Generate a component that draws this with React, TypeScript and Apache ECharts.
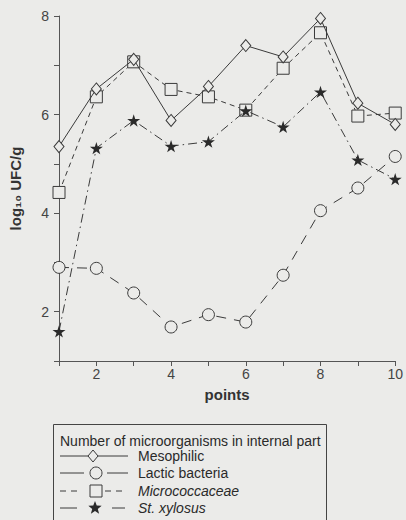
import React, { useEffect, useRef } from "react";
import * as echarts from "echarts";

const points = [1, 2, 3, 4, 5, 6, 7, 8, 9, 10];
const mesophilic = [5.35, 6.52, 7.12, 5.88, 6.57, 7.4, 7.17, 7.95, 6.23, 5.8];
const lactic = [2.9, 2.88, 2.38, 1.69, 1.94, 1.79, 2.74, 4.05, 4.51, 5.15];
const micrococcaceae = [4.42, 6.36, 7.07, 6.51, 6.36, 6.09, 6.94, 7.66, 5.97, 6.03];
const xylosus = [1.6, 5.32, 5.88, 5.36, 5.45, 6.08, 5.75, 6.46, 5.08, 4.69];
const yTickLabels = ["2", "4", "6", "8"];
const xTickLabels = ["2", "4", "6", "8", "10"];
const legendTitle = "Number of microorganisms in internal part";
const seriesNames = ["Mesophilic", "Lactic bacteria", "Micrococcaceae", "St. xylosus"];

const BG = "#ebebe9";
const INK = "#3a3a3a";
const FONT = "Liberation Sans, Arial, sans-serif";
const STAR = "path://M50,0 L61,35 L98,35 L68,57 L79,91 L50,70 L21,91 L32,57 L2,35 L39,35 Z";

function starPoints(cx: number, cy: number, r: number) {
  const pts: number[][] = [];
  for (let i = 0; i < 10; i++) {
    const rad = i % 2 === 0 ? r : r * 0.42;
    const a = -Math.PI / 2 + (i * Math.PI) / 5;
    pts.push([cx + rad * Math.cos(a), cy + rad * Math.sin(a)]);
  }
  return pts;
}

export default function App() {
  const ref = useRef<HTMLDivElement>(null);
  useEffect(() => {
    document.body.style.margin = "0";
    const chart = echarts.init(ref.current!, undefined, { renderer: "svg" });
    const pair = (arr: number[]) => points.map((p, i) => [p, arr[i]]);
    const rowY = [456, 473, 491, 508];
    const segments: number[][][] = [
      [[60, 128]],
      [[60, 84], [107, 128]],
      [[60, 66], [71, 77], [105, 111], [116, 122]],
      [[60, 77], [112, 125]],
    ];
    const markerX = [93, 96, 96, 95];
    const legendGraphics: any[] = [
      {
        type: "rect",
        shape: { x: 53.5, y: 424.5, width: 273, height: 110 },
        style: { fill: "none", stroke: "#444", lineWidth: 1 },
      },
      {
        type: "text",
        x: 60,
        y: 441,
        style: { text: legendTitle, font: `14px ${FONT}`, fill: "#2a2a2a", textVerticalAlign: "middle" },
      },
    ];
    seriesNames.forEach((name, i) => {
      const y = rowY[i];
      segments[i].forEach(([a, b]) =>
        legendGraphics.push({
          type: "line",
          shape: { x1: a, y1: y, x2: b, y2: y },
          style: { stroke: INK, lineWidth: 1 },
        })
      );
      const cx = markerX[i];
      let marker: any;
      if (i === 0)
        marker = {
          type: "polygon",
          shape: { points: [[cx, y - 6], [cx + 5, y], [cx, y + 6], [cx - 5, y]] },
          style: { fill: BG, stroke: INK, lineWidth: 1 },
        };
      else if (i === 1)
        marker = { type: "circle", shape: { cx, cy: y, r: 6 }, style: { fill: BG, stroke: INK, lineWidth: 1 } };
      else if (i === 2)
        marker = {
          type: "rect",
          shape: { x: cx - 6, y: y - 6, width: 12, height: 12 },
          style: { fill: BG, stroke: INK, lineWidth: 1 },
        };
      else
        marker = {
          type: "polygon",
          shape: { points: starPoints(cx, y, 7) },
          style: { fill: "#2a2a2a" },
        };
      legendGraphics.push(marker);
      legendGraphics.push({
        type: "text",
        x: 138,
        y,
        style: {
          text: name,
          font: `${i >= 2 ? "italic " : ""}14px ${FONT}`,
          fill: "#2a2a2a",
          textVerticalAlign: "middle",
        },
      });
    });

    const mk = (name: string, data: number[], symbol: string, size: any, dash: any, filled: boolean, z: number) => ({
      type: "line",
      name,
      data: pair(data),
      symbol,
      symbolSize: size,
      symbolKeepAspect: true,
      showAllSymbol: true,
      z,
      lineStyle: { color: INK, width: 1, type: dash },
      itemStyle: { color: filled ? "#2a2a2a" : BG, borderColor: INK, borderWidth: filled ? 0 : 1 },
      emphasis: { disabled: true },
    });

    chart.setOption({
      animation: false,
      backgroundColor: BG,
      textStyle: { fontFamily: FONT },
      grid: { left: 58, right: 9, top: 16, bottom: 159, containLabel: false },
      xAxis: {
        type: "value",
        min: 1,
        max: 10,
        interval: 1,
        name: "points",
        nameLocation: "middle",
        nameGap: 26,
        nameTextStyle: { fontSize: 15, fontWeight: "bold", color: "#333", fontFamily: FONT },
        axisLine: { lineStyle: { color: "#555", width: 1 } },
        axisTick: { length: 5, lineStyle: { color: "#555" } },
        axisLabel: {
          fontSize: 14,
          color: "#444",
          margin: 6,
          formatter: (v: number) => (xTickLabels.includes(String(v)) ? String(v) : ""),
        },
        splitLine: { show: false },
      },
      yAxis: {
        type: "value",
        min: 1,
        max: 8,
        interval: 1,
        name: "log₁₀ UFC/g",
        nameLocation: "middle",
        nameGap: 36,
        nameTextStyle: { fontSize: 15, fontWeight: "bold", color: "#333", fontFamily: FONT },
        axisLine: { show: true, lineStyle: { color: "#555", width: 1 } },
        axisTick: { show: true, length: 5, lineStyle: { color: "#555" } },
        axisLabel: {
          fontSize: 14,
          color: "#444",
          margin: 10,
          formatter: (v: number) => (yTickLabels.includes(String(v)) ? String(v) : ""),
        },
        splitLine: { show: false },
      },
      series: [
        mk(seriesNames[0], mesophilic, "diamond", [10, 12], "solid", false, 5),
        mk(seriesNames[1], lactic, "circle", 12, [10, 8], false, 4),
        mk(seriesNames[2], micrococcaceae, "rect", 12, [5, 4], false, 3),
        mk(seriesNames[3], xylosus, STAR, 13, [9, 4, 1.5, 4], true, 6),
      ],
      graphic: legendGraphics,
    });
    return () => chart.dispose();
  }, []);
  return <div ref={ref} style={{ width: 406, height: 520, background: BG }} />;
}
